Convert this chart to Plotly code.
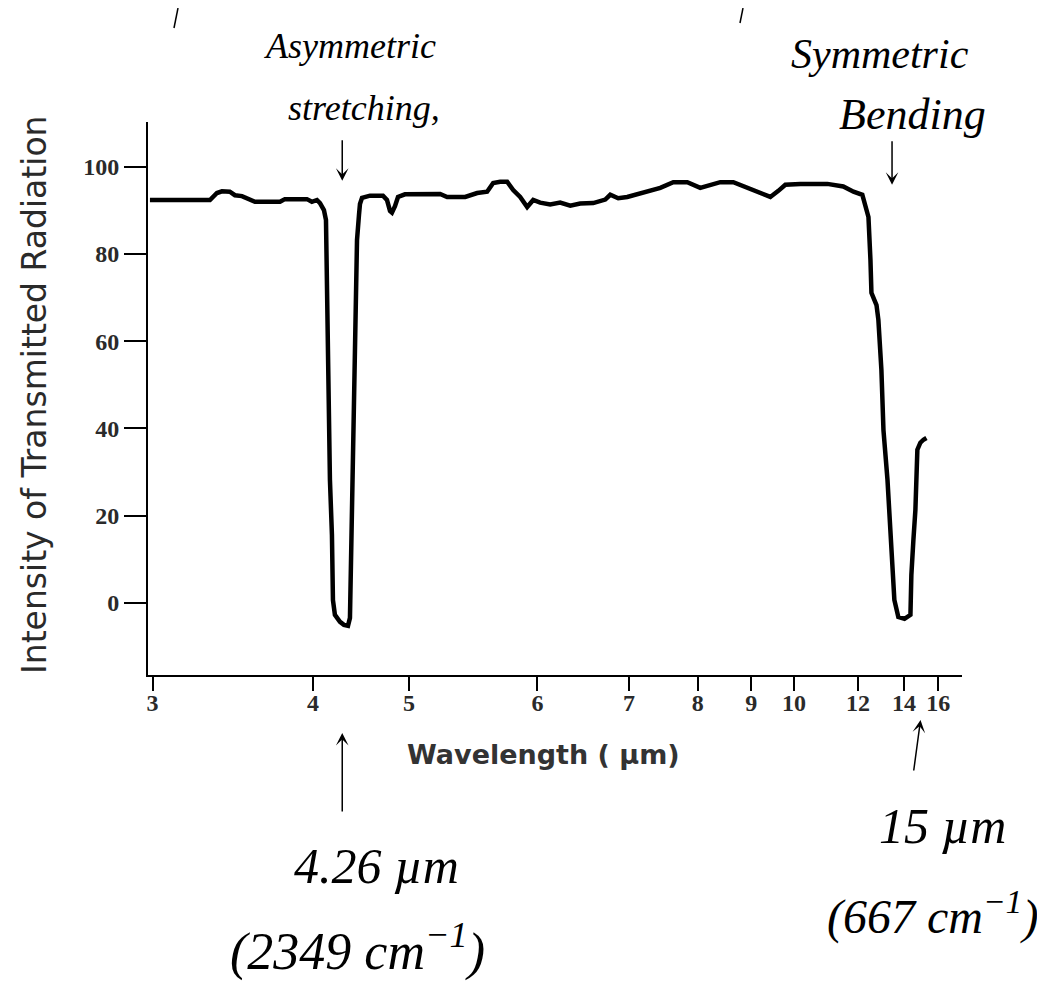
import numpy as np
import plotly.graph_objects as go

# ---- data ----
wavelength_um = [2.988, 3.083, 3.186, 3.295, 3.335, 3.364, 3.411, 3.442, 3.486, 3.524,
                 3.570, 3.672, 3.744, 3.780, 3.895, 3.951, 3.992, 4.034, 4.060, 4.094,
                 4.112, 4.120, 4.129, 4.147, 4.165, 4.174, 4.192, 4.239, 4.276, 4.315,
                 4.334, 4.344, 4.354, 4.374, 4.383, 4.393, 4.404, 4.424, 4.434, 4.455,
                 4.539, 4.682, 4.728, 4.764, 4.787, 4.823, 4.860, 4.947, 5.073, 5.210,
                 5.260, 5.393, 5.485, 5.564, 5.613, 5.671, 5.730, 5.782, 5.843, 5.906,
                 5.961, 6.026, 6.122, 6.221, 6.324, 6.429, 6.572, 6.710, 6.769, 6.865,
                 6.977, 7.186, 7.422, 7.613, 7.830, 8.042, 8.214, 8.393, 8.639, 8.919,
                 9.196, 9.422, 9.610, 9.781, 10.17, 10.59, 10.95, 11.47, 11.83, 12.16,
                 12.28, 12.40, 12.48, 12.52, 12.73, 12.81, 12.94, 13.03, 13.21, 13.30,
                 13.39, 13.53, 13.72, 14.03, 14.34, 14.39, 14.50, 14.61, 14.72, 14.89,
                 15.07, 15.25]
intensity = [92.4, 92.4, 92.2, 92.4, 94.0, 94.4, 94.3, 93.5, 93.3, 92.6,
             92.0, 92.0, 92.0, 92.6, 92.6, 92.6, 92.0, 92.4, 91.7, 90.1,
             87.8, 71.8, 53.4, 28.2, 15.5, 0.6, -2.8, -4.4, -5.1, -5.3,
             -3.5, 9.8, 22.4, 37.3, 53.4, 69.5, 83.2, 89.0, 91.5, 92.9,
             93.4, 93.4, 92.4, 89.9, 89.5, 91.0, 93.1, 93.7, 93.8, 93.8,
             93.1, 93.1, 94.0, 94.3, 96.3, 96.6, 96.6, 94.7, 93.1, 90.8,
             92.4, 91.8, 91.4, 91.8, 91.1, 91.6, 91.7, 92.5, 93.6, 92.8,
             93.1, 94.0, 95.2, 96.5, 96.5, 95.2, 95.8, 96.5, 96.5, 95.2,
             94.0, 93.1, 94.5, 95.9, 96.1, 96.1, 96.1, 95.5, 94.3, 93.6,
             90.8, 88.5, 78.7, 71.1, 68.3, 64.9, 53.4, 39.6, 28.2, 20.1,
             9.8, 0.6, -3.3, -3.7, -2.8, 6.4, 14.4, 21.3, 35.1, 36.7,
             37.4, 37.8]

x_tick_labels = [3, 4, 5, 6, 7, 8, 9, 10, 12, 14, 16]
y_tick_values = [0, 20, 40, 60, 80, 100]
x_limits_um = [2.979, 17.75]
y_limits = [-16.6, 110.3]

stretch_arrow_um = 4.26     # arrows marking the asymmetric stretch band
bend_top_arrow_um = 13.42   # arrow above the bending band
bend_low_arrow_um = 14.9    # arrow below the axis for the bending band


def scale_pos(lam):
    """Spectrometer chart position: linear in wavenumber, scale doubled below 2000 cm-1."""
    nu = 10000.0 / np.asarray(lam, dtype=float)
    return np.where(nu >= 2000, 10000.0 / 3 - nu, (10000.0 / 3 - 2000) + 2 * (2000 - nu))


# ---- layout geometry (page has an 8px body margin) ----
W, H = 1029, 975
L, R, T, B = 140, 75, 114, 308
PW, PH = W - L - R, H - T - B
OFF = 8


def px(xp):   # page pixel x -> paper x
    return (xp - OFF - L) / PW


def py(yp):   # page pixel y -> paper y
    return (H - B - (yp - OFF)) / PH


fig = go.Figure()
fig.add_trace(go.Scatter(
    x=scale_pos(wavelength_um), y=intensity, mode="lines",
    line=dict(color="black", width=4.5), hoverinfo="skip", showlegend=False,
))

tick_font = dict(family="Liberation Serif, DejaVu Serif, serif", size=24, color="#2a2a2a", weight="bold")

fig.update_layout(
    width=W, height=H,
    margin=dict(l=L, r=R, t=T, b=B, pad=0),
    paper_bgcolor="white", plot_bgcolor="white",
    showlegend=False,
    xaxis=dict(
        range=list(scale_pos(x_limits_um)),
        tickmode="array", tickvals=list(scale_pos(x_tick_labels)),
        ticktext=[str(v) for v in x_tick_labels],
        ticks="outside", ticklen=14, tickwidth=2, tickcolor="black",
        ticklabelstandoff=-9,
        showline=True, linecolor="black", linewidth=2,
        showgrid=False, zeroline=False, tickfont=tick_font,
    ),
    yaxis=dict(
        range=y_limits, tickmode="array", tickvals=y_tick_values,
        ticks="outside", ticklen=22, tickwidth=1.5, tickcolor="black",
        showline=True, linecolor="black", linewidth=2,
        showgrid=False, zeroline=False, tickfont=tick_font,
    ),
)

hand = "Liberation Serif, DejaVu Serif, serif"
ann = []
# axis titles
ann.append(dict(text="Wavelength ( µm)", xref="paper", yref="paper", x=px(543), y=py(754),
                showarrow=False, xanchor="center", yanchor="middle",
                font=dict(family="DejaVu Sans, Liberation Sans, sans-serif", size=27,
                          color="#333333", weight="bold")))
ann.append(dict(text="Intensity of Transmitted Radiation", xref="paper", yref="paper",
                x=px(34), y=py(395), textangle=-90, showarrow=False,
                xanchor="center", yanchor="middle",
                font=dict(family="DejaVu Sans, Liberation Sans, sans-serif", size=33, color="#2a2a2a")))


def hw(text, xp, yp, size):
    return dict(text=text, xref="paper", yref="paper", x=px(xp), y=py(yp), showarrow=False,
                xanchor="center", yanchor="middle",
                font=dict(family=hand, size=size, color="black", style="italic"))


ann.append(hw("Asymmetric", 350, 46, 36))
ann.append(hw("stretching,", 364, 108, 36))
ann.append(hw("Symmetric", 880, 54, 42))
ann.append(hw("Bending", 912, 115, 44))
ann.append(hw("4.26 µm", 376, 866, 50))
ann.append(hw("(2349 cm<sup>−1</sup>)", 357, 948, 52))
ann.append(hw("15 µm", 942, 826, 50))
ann.append(hw("(667 cm<sup>−1</sup>)", 932, 914, 48))

# arrows
arrow = dict(showarrow=True, arrowhead=3, arrowsize=1.4, arrowwidth=1.5, arrowcolor="black", text="")
ann.append(dict(x=float(scale_pos(stretch_arrow_um)), y=96.8, xref="x", yref="y", ax=0, ay=-42, **arrow))
ann.append(dict(x=float(scale_pos(bend_top_arrow_um)), y=95.9, xref="x", yref="y", ax=0, ay=-45, **arrow))
ann.append(dict(x=float(scale_pos(stretch_arrow_um)), y=py(733), xref="x", yref="paper", ax=0, ay=80, **arrow))
ann.append(dict(x=float(scale_pos(bend_low_arrow_um)), y=py(720), xref="x", yref="paper", ax=-7, ay=52, **arrow))
fig.update_layout(annotations=ann)

# cut-off pen strokes at the very top of the scan
fig.add_shape(type="line", xref="paper", yref="paper", x0=px(174), y0=py(28), x1=px(178), y1=py(8),
              line=dict(color="black", width=1.5))
fig.add_shape(type="line", xref="paper", yref="paper", x0=px(740), y0=py(23), x1=px(743), y1=py(8),
              line=dict(color="black", width=1.5))

fig.write_html("out.html")
